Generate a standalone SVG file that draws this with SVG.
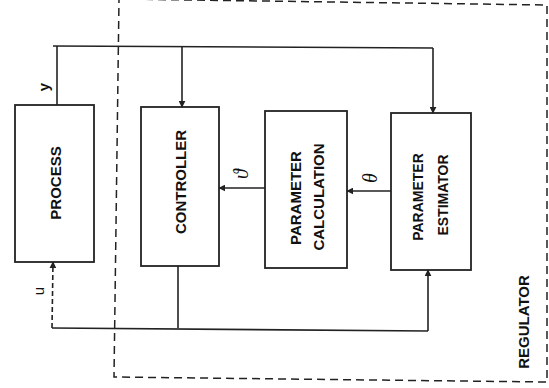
<svg xmlns="http://www.w3.org/2000/svg" width="549" height="388" viewBox="0 0 549 388">
<style>
.box{fill:#fff;stroke:#222;stroke-width:1.8}
.ln{fill:none;stroke:#222;stroke-width:1.6}
.dash{fill:none;stroke:#222;stroke-width:1.5;stroke-dasharray:8 5}
.lbl{font-family:"Liberation Sans",Arial,sans-serif;font-weight:bold;font-size:15px;fill:#111;text-anchor:middle}
.sym{font-family:"Liberation Serif","Times New Roman",serif;font-style:italic;font-size:20px;fill:#111;text-anchor:middle}
</style>
<defs>
<marker id="ah" viewBox="0 0 10 10" refX="9" refY="5" markerWidth="7" markerHeight="7" markerUnits="userSpaceOnUse" orient="auto">
<path d="M0 0 L10 5 L0 10 Z" fill="#222"/>
</marker>
</defs>
<rect width="549" height="388" fill="#fff"/>
<g id="regulator">
<path class="dash" d="M119 -1 L547 5 L547 382 L114 377 Z"/>
<text class="lbl" transform="translate(523,322) rotate(-90)" y="5.5">REGULATOR</text>
</g>
<g id="process">
<rect class="box" x="15" y="105" width="79" height="157"/>
<text class="lbl" transform="translate(55,183) rotate(-90)" y="5.5">PROCESS</text>
</g>
<g id="controller">
<rect class="box" x="141" y="107" width="78" height="159"/>
<text class="lbl" transform="translate(180,182) rotate(-90)" y="5.5">CONTROLLER</text>
</g>
<g id="calculation">
<rect class="box" x="265" y="111" width="82" height="157"/>
<text class="lbl" transform="translate(295,198) rotate(-90)" y="5.5">PARAMETER</text>
<text class="lbl" transform="translate(318,197) rotate(-90)" y="5.5">CALCULATION</text>
</g>
<g id="estimator">
<rect class="box" x="391" y="113" width="80" height="157"/>
<text class="lbl" transform="translate(418,197) rotate(-90)" y="5" style="font-size:14px">PARAMETER</text>
<text class="lbl" transform="translate(443,195) rotate(-90)" y="5" style="font-size:14px">ESTIMATOR</text>
</g>
<g id="connectors">
<path class="ln" d="M57 105 L57 46"/>
<path class="ln" d="M53 46 L433 48"/>
<path class="ln" d="M182 46 L182 107" marker-end="url(#ah)"/>
<path class="ln" d="M433 48 L433 113" marker-end="url(#ah)"/>
<path class="ln" d="M265 188 L219 188" marker-end="url(#ah)"/>
<path class="ln" d="M391 191 L347 191" marker-end="url(#ah)"/>
<path class="ln" d="M178 266 L178 328"/>
<path class="ln" d="M52 328 L428 331"/>
<path class="ln" d="M428 331 L428 270" marker-end="url(#ah)"/>
<path class="ln" d="M52 328 L53 262" style="stroke-dasharray:5 3" marker-end="url(#ah)"/>
<text class="lbl" transform="translate(44,87) rotate(-90)" y="5">y</text>
<text transform="translate(39,291) rotate(-90)" y="5" style="font-family:'Liberation Sans',Arial,sans-serif;font-size:15px;fill:#111;text-anchor:middle">u</text>
<text class="sym" transform="translate(242,174) rotate(-90)" y="6">ϑ</text>
<text class="sym" transform="translate(371,178) rotate(-90)" y="6">θ</text>
</g>
</svg>
